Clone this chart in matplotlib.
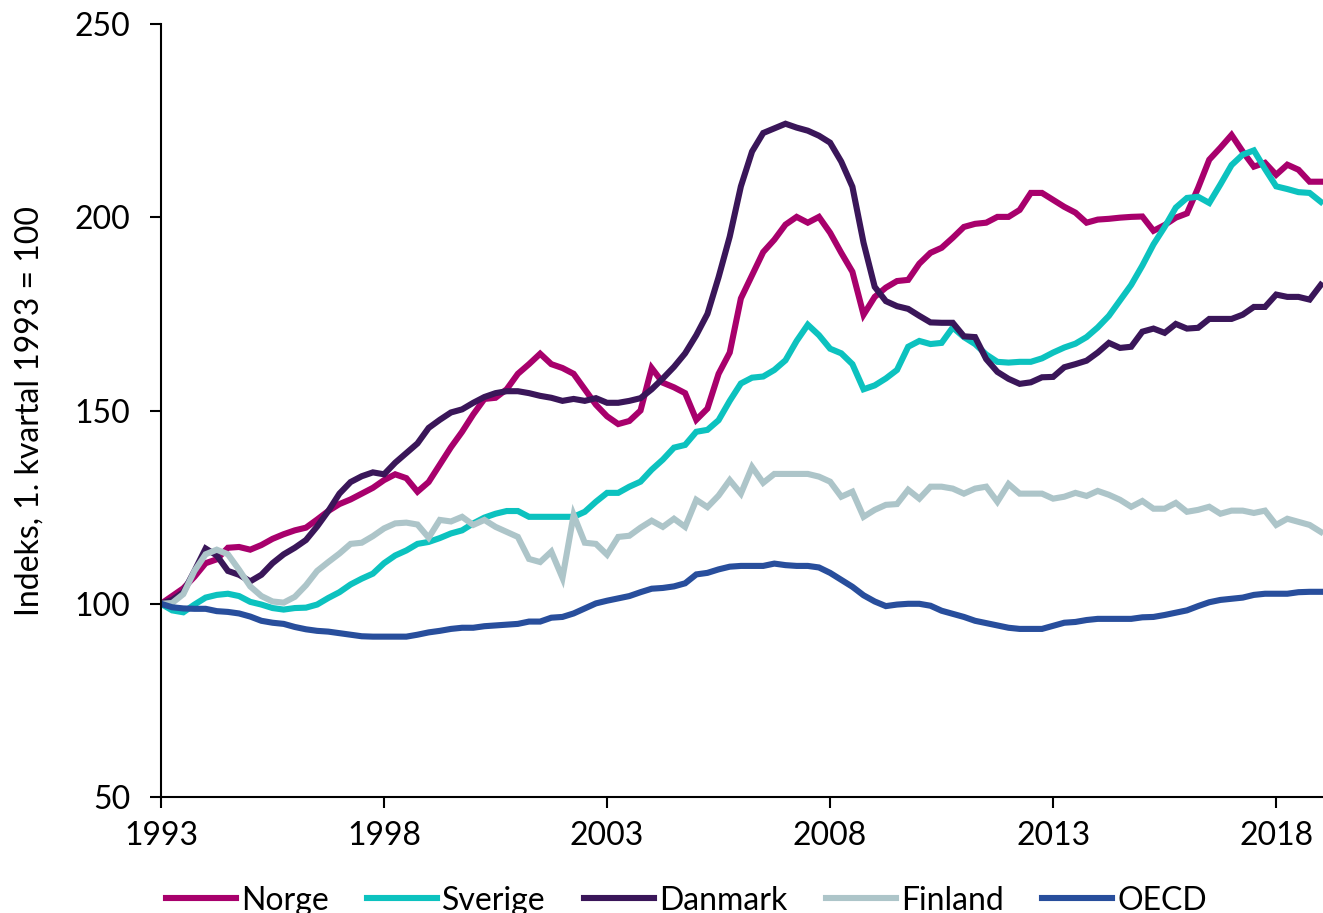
import matplotlib
matplotlib.use("Agg")
import matplotlib.pyplot as plt
import numpy as np

# Quarterly index, 1st quarter 1993 = 100 (1993Q1 .. 2019Q1)
start_year = 1993
year_labels = ["1993", "1998", "2003", "2008", "2013", "2018"]

norge = [100, 102, 104, 107, 110.5, 111.5, 114.5, 114.7, 114, 115.2,
         116.8, 118, 119, 119.7, 121.8, 124, 125.8, 127, 128.5, 130,
         132, 133.5, 132.5, 129, 131.5, 136, 140.5, 144.5, 149, 153,
         153.3, 155.5, 159.5, 162, 164.7, 162, 161, 159.5, 155.5, 151.5,
         148.5, 146.5, 147.3, 150, 161, 157.2, 156, 154.5, 147.6, 150.5,
         159.5, 165, 179, 185, 191, 194.2, 198.1, 200.1, 198.6, 200.1,
         196, 190.8, 185.9, 174.8, 179.4, 181.8, 183.5, 183.8, 188, 190.8,
         192.1, 194.7, 197.5, 198.3, 198.6, 200.1, 200.1, 201.9, 206.3, 206.3,
         204.5, 202.7, 201.2, 198.6, 199.4, 199.6, 199.9, 200.1, 200.2, 196.5,
         198, 199.9, 201, 207.6, 214.9, 218, 221.3, 217, 213.1, 214.1,
         211, 213.6, 212.3, 209.2, 209.2]

sverige = [100, 98.3, 97.8, 99.8, 101.6, 102.3, 102.6, 102, 100.5, 99.8,
           98.9, 98.5, 98.9, 99, 99.8, 101.5, 103, 105, 106.5, 107.8,
           110.5, 112.5, 113.8, 115.5, 116, 117, 118.2, 119, 120.8, 122.3,
           123.3, 124, 124, 122.5, 122.5, 122.5, 122.5, 122.5, 123.8, 126.4,
           128.7, 128.7, 130.3, 131.6, 134.7, 137.3, 140.4, 141.1, 144.5, 145,
           147.5, 152.5, 157, 158.5, 158.8, 160.5, 163, 168, 172.2, 169.5,
           166, 164.8, 162, 155.5, 156.5, 158.3, 160.5, 166.5, 168, 167.2,
           167.5, 171.5, 169, 167.2, 164.5, 162.6, 162.4, 162.6, 162.6, 163.5,
           165, 166.3, 167.3, 169, 171.5, 174.5, 178.5, 182.5, 187.5, 193,
           197.5, 202.5, 205, 205.3, 203.7, 208.5, 213.5, 216.2, 217.3, 212.5,
           208, 207.3, 206.5, 206.3, 204]

danmark = [100, 101, 103, 108.5, 114.3, 112.5, 108.5, 107.5, 105.8, 107.5,
           110.5, 112.8, 114.5, 116.5, 120, 124, 128.5, 131.5, 133, 134,
           133.5, 136.5, 139, 141.5, 145.5, 147.6, 149.5, 150.3, 152, 153.5,
           154.5, 155, 155, 154.5, 153.8, 153.3, 152.5, 153, 152.5, 153.2,
           152, 152, 152.5, 153.2, 155.5, 158.3, 161.3, 164.8, 169.5, 175,
           184.5, 195, 208, 217, 221.8, 223, 224.2, 223.2, 222.4, 221.1,
           219.3, 214.4, 207.9, 193.4, 182, 178.3, 177, 176.3, 174.5, 172.8,
           172.7, 172.7, 169.2, 169, 163.3, 160, 158.2, 156.9, 157.3, 158.6,
           158.7, 161.2, 162, 162.9, 165, 167.5, 166.2, 166.5, 170.4, 171.2,
           170.1, 172.4, 171.2, 171.4, 173.7, 173.7, 173.7, 174.8, 176.8, 176.8,
           180, 179.4, 179.4, 178.7, 182.5]

finland = [100, 100.2, 102.5, 108.5, 112.8, 114, 112.8, 108.8, 104.5, 102,
           100.6, 100.3, 101.8, 104.8, 108.5, 110.8, 113, 115.5, 115.8, 117.5,
           119.5, 120.8, 121, 120.5, 117.1, 121.7, 121.3, 122.5, 120.4, 121.7,
           119.9, 118.6, 117.3, 111.6, 110.8, 113.5, 106.7, 123, 115.8, 115.5,
           112.7, 117.3, 117.6, 119.7, 121.5, 119.9, 122, 119.9, 126.9, 125,
           128, 132, 128.5, 135.4, 131.3, 133.6, 133.6, 133.6, 133.6, 132.9,
           131.6, 127.7, 129, 122.5, 124.3, 125.6, 125.8, 129.5, 127.2, 130.3,
           130.3, 129.8, 128.5, 129.8, 130.3, 126.4, 131, 128.5, 128.5, 128.5,
           127.2, 127.7, 128.7, 127.9, 129.2, 128.2, 126.9, 125.1, 126.6, 124.6,
           124.6, 126.1, 123.8, 124.3, 125.1, 123.3, 124.1, 124.1, 123.5, 124.1,
           120.4, 122, 121.2, 120.4, 118.6]

oecd = [100, 99.1, 98.8, 98.7, 98.7, 98.1, 97.9, 97.5, 96.7, 95.6,
        95.1, 94.8, 94, 93.4, 93, 92.8, 92.4, 92, 91.6, 91.5,
        91.5, 91.5, 91.5, 92, 92.6, 93, 93.5, 93.8, 93.8, 94.2,
        94.4, 94.6, 94.8, 95.4, 95.4, 96.4, 96.6, 97.5, 98.8, 100.1,
        100.8, 101.4, 102, 103, 103.9, 104.1, 104.5, 105.3, 107.6, 108,
        108.9, 109.6, 109.8, 109.8, 109.8, 110.4, 110, 109.8, 109.8, 109.4,
        108, 106.2, 104.4, 102.2, 100.6, 99.4, 99.8, 100, 100, 99.5,
        98.2, 97.4, 96.6, 95.6, 95, 94.4, 93.8, 93.5, 93.5, 93.5,
        94.3, 95.1, 95.3, 95.8, 96.1, 96.1, 96.1, 96.1, 96.5, 96.6,
        97.1, 97.7, 98.3, 99.4, 100.4, 101, 101.3, 101.6, 102.3, 102.6,
        102.6, 102.6, 103, 103.1, 103.1]

series = [("Norge", norge, "#A8006C"),
          ("Sverige", sverige, "#0CC2BF"),
          ("Danmark", danmark, "#3A1659"),
          ("Finland", finland, "#ADC5C9"),
          ("OECD", oecd, "#284E9C")]

plt.rcParams["font.family"] = ["Lato", "DejaVu Sans"]

fig = plt.figure(figsize=(13.23, 9.13), dpi=100)
ax = fig.add_axes([0.1217, 0.127, 0.8783, 0.8467])

for name, vals, col in series:
    x = np.arange(len(vals))
    ax.plot(x, vals, color=col, lw=4.4, label=name, solid_joinstyle="miter")

ax.set_xlim(0, 104.2)
ax.set_ylim(50, 250)
ax.set_yticks([50, 100, 150, 200, 250])
ax.set_xticks([(int(y) - start_year) * 4 for y in year_labels])
ax.set_xticklabels(year_labels)
ax.tick_params(axis="both", labelsize=23, direction="out", length=8, width=1.5, color="black")
ax.tick_params(axis="y", pad=14)
ax.tick_params(axis="x", pad=9)
ax.set_ylabel("Indeks, 1. kvartal 1993 = 100", fontsize=23, labelpad=22)

for side in ["top", "right"]:
    ax.spines[side].set_visible(False)
for side in ["left", "bottom"]:
    ax.spines[side].set_linewidth(1.5)

ax.legend(loc="center", bbox_to_anchor=(0.452, -0.134), ncol=5, frameon=False,
          fontsize=23, handlelength=2.2, handletextpad=0.15, columnspacing=1.2)

fig.savefig("out.png", dpi=100)
